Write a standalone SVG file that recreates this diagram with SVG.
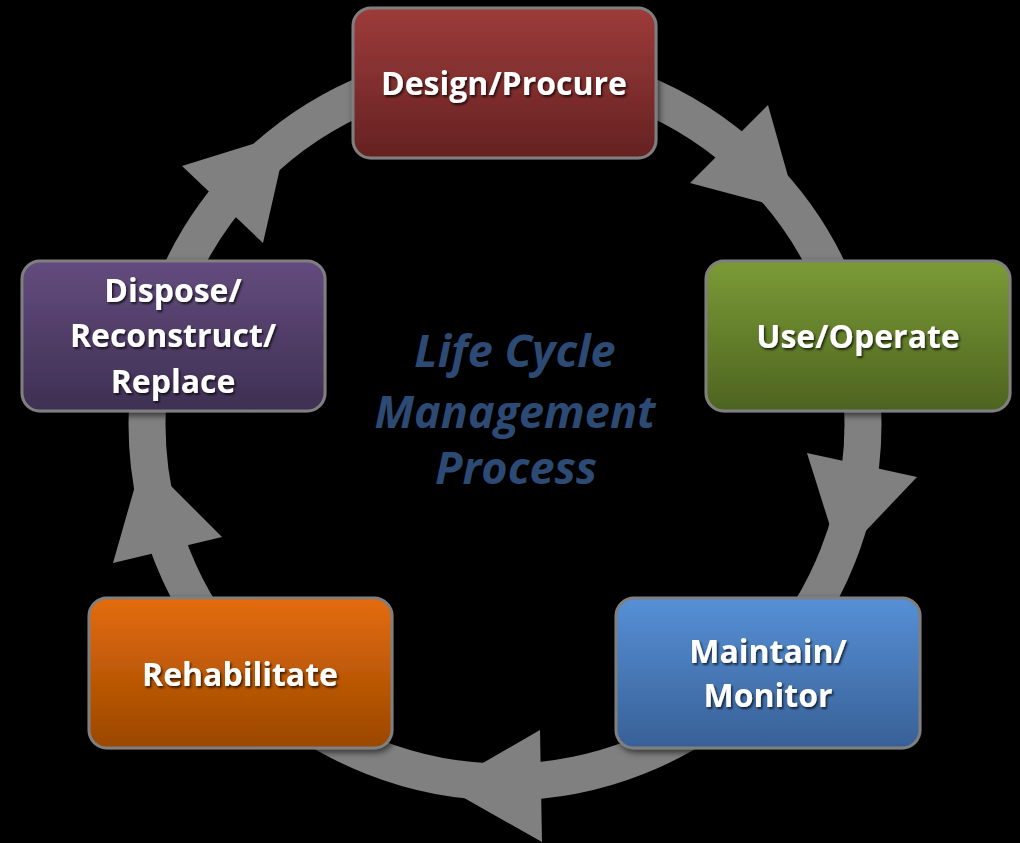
<svg xmlns="http://www.w3.org/2000/svg" width="1020" height="843" viewBox="0 0 1020 843">
<defs>
<linearGradient id="gRed" x1="0" y1="0" x2="0" y2="1"><stop offset="0" stop-color="#9d3b3a"/><stop offset="1" stop-color="#652222"/></linearGradient>
<linearGradient id="gGreen" x1="0" y1="0" x2="0" y2="1"><stop offset="0" stop-color="#7b9b36"/><stop offset="1" stop-color="#4d6320"/></linearGradient>
<linearGradient id="gBlue" x1="0" y1="0" x2="0" y2="1"><stop offset="0" stop-color="#5690d6"/><stop offset="1" stop-color="#386096"/></linearGradient>
<linearGradient id="gOrange" x1="0" y1="0" x2="0" y2="1"><stop offset="0" stop-color="#e46c0d"/><stop offset="1" stop-color="#9a4700"/></linearGradient>
<linearGradient id="gPurple" x1="0" y1="0" x2="0" y2="1"><stop offset="0" stop-color="#634c7e"/><stop offset="1" stop-color="#3e2f52"/></linearGradient>
<filter id="boxShadow" x="-10%" y="-10%" width="125%" height="130%"><feDropShadow dx="2" dy="3" stdDeviation="3" flood-color="#000" flood-opacity="0.6"/></filter>
<filter id="txtShadow" x="-10%" y="-20%" width="125%" height="150%"><feDropShadow dx="1.5" dy="2" stdDeviation="1.2" flood-color="#000" flood-opacity="0.7"/></filter>
</defs>
<style>
.box{stroke:#7f7f7f;stroke-width:3;filter:url(#boxShadow)}
.lbl{font-family:"Open Sans","Liberation Sans",sans-serif;font-weight:bold;font-size:32px;fill:#ffffff;text-anchor:middle;filter:url(#txtShadow)}
.center{font-family:"Open Sans","Liberation Sans",sans-serif;font-style:italic;font-weight:bold;font-size:45px;fill:#2c4a73;text-anchor:middle}
.ring{fill:none;stroke:#808080;stroke-width:37}
.head{fill:#808080}
</style>
<rect x="0" y="0" width="1020" height="843" fill="#000000"/>
<g id="connectors">
<circle class="ring" cx="505" cy="424" r="358"/>
<polygon class="head" points="768,105 690,183 798,212"/>
<polygon class="head" points="807,453 917,477 840,558"/>
<polygon class="head" points="540,730 542,842 443,786"/>
<polygon class="head" points="222,537 113,563 143,458"/>
<polygon class="head" points="263,243 182,166 288,133"/>
</g>
<g id="center-title">
<text class="center" x="515" y="367">Life Cycle</text>
<text class="center" x="515" y="428">Management</text>
<text class="center" x="516" y="484">Process</text>
</g>
<g id="node-design">
<rect class="box" x="353" y="8" width="303" height="150" rx="18" fill="url(#gRed)"/>
<text class="lbl" x="504" y="95">Design/Procure</text>
</g>
<g id="node-use">
<rect class="box" x="706" y="261" width="304" height="150" rx="18" fill="url(#gGreen)"/>
<text class="lbl" x="858" y="348">Use/Operate</text>
</g>
<g id="node-maintain">
<rect class="box" x="616" y="598" width="304" height="150" rx="18" fill="url(#gBlue)"/>
<text class="lbl" x="768" y="663">Maintain/</text>
<text class="lbl" x="768" y="707">Monitor</text>
</g>
<g id="node-rehabilitate">
<rect class="box" x="89" y="598" width="303" height="150" rx="18" fill="url(#gOrange)"/>
<text class="lbl" x="240" y="686">Rehabilitate</text>
</g>
<g id="node-dispose">
<rect class="box" x="22" y="261" width="303" height="150" rx="18" fill="url(#gPurple)"/>
<text class="lbl" x="173" y="302">Dispose/</text>
<text class="lbl" x="173" y="347">Reconstruct/</text>
<text class="lbl" x="173" y="393">Replace</text>
</g>
</svg>
